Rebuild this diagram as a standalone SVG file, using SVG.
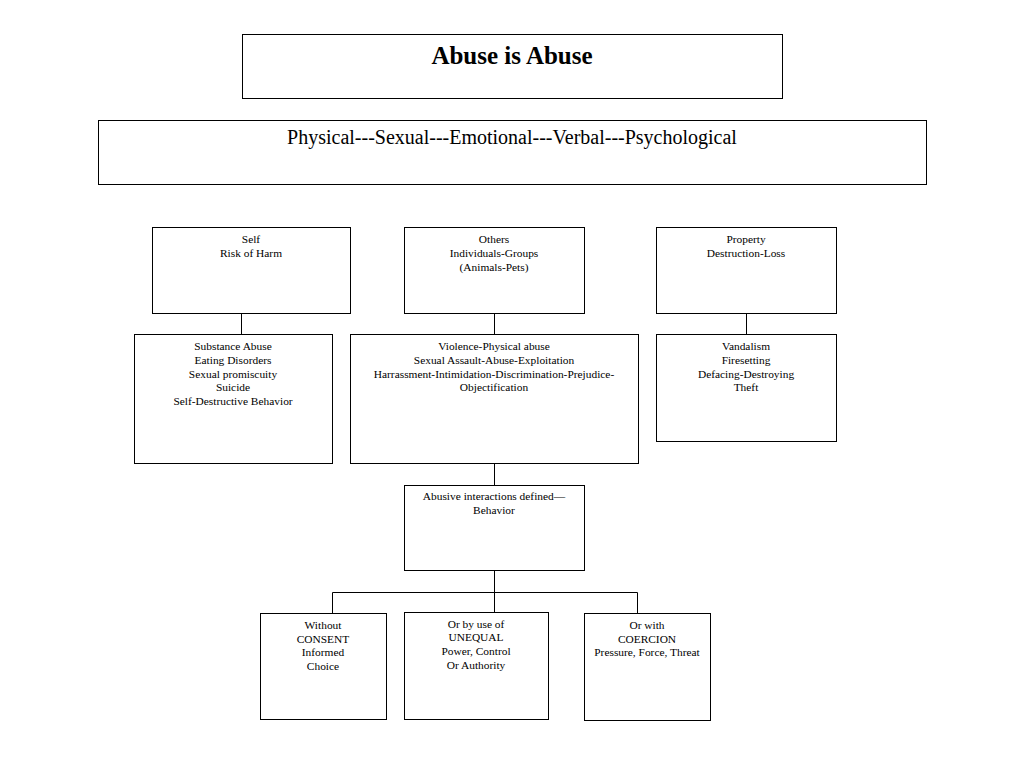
<svg xmlns="http://www.w3.org/2000/svg" width="1024" height="768" viewBox="0 0 1024 768">
<style>
rect{fill:#fff;stroke:#000;stroke-width:1}
text{font-family:"Liberation Serif","Times New Roman",serif;fill:#000;text-anchor:middle;font-size:11.4px}
.t{font-size:25px;font-weight:bold}
.s{font-size:20px}
#connectors path{fill:none;stroke:#000;stroke-width:1}
</style>
<rect x="0" y="0" width="1024" height="768" style="stroke:none"/>
<g id="connectors">
<path d="M241.5 313V334"/>
<path d="M494.5 313V334"/>
<path d="M746.5 313V334"/>
<path d="M494.5 463V485"/>
<path d="M494.5 570V592M332.5 613V592.5H637.5V613M494.5 592V612"/>
</g>
<g id="title"><rect x="242.5" y="34.5" width="540" height="64"/><text class="t" x="512" y="64">Abuse is Abuse</text></g>
<g id="types"><rect x="98.5" y="120.5" width="828" height="64"/><text class="s" x="512" y="144">Physical---Sexual---Emotional---Verbal---Psychological</text></g>
<g id="self"><rect x="152.5" y="227.5" width="198" height="86"/><text x="251" y="243">Self</text><text x="251" y="257">Risk of Harm</text></g>
<g id="others"><rect x="404.5" y="227.5" width="180" height="86"/><text x="494" y="243">Others</text><text x="494" y="257">Individuals-Groups</text><text x="494" y="271">(Animals-Pets)</text></g>
<g id="property"><rect x="656.5" y="227.5" width="180" height="86"/><text x="746" y="243">Property</text><text x="746" y="257">Destruction-Loss</text></g>
<g id="selfList"><rect x="134.5" y="334.5" width="198" height="129"/><text x="233" y="350">Substance Abuse</text><text x="233" y="364">Eating Disorders</text><text x="233" y="378">Sexual promiscuity</text><text x="233" y="391">Suicide</text><text x="233" y="405">Self-Destructive Behavior</text></g>
<g id="othersList"><rect x="350.5" y="334.5" width="288" height="129"/><text x="494" y="350">Violence-Physical abuse</text><text x="494" y="364">Sexual Assault-Abuse-Exploitation</text><text x="494" y="378">Harrassment-Intimidation-Discrimination-Prejudice-</text><text x="494" y="391">Objectification</text></g>
<g id="propertyList"><rect x="656.5" y="334.5" width="180" height="107"/><text x="746" y="350">Vandalism</text><text x="746" y="364">Firesetting</text><text x="746" y="378">Defacing-Destroying</text><text x="746" y="391">Theft</text></g>
<g id="behavior"><rect x="404.5" y="485.5" width="180" height="85"/><text x="494" y="500">Abusive interactions defined—</text><text x="494" y="514">Behavior</text></g>
<g id="consent"><rect x="260.5" y="613.5" width="126" height="106"/><text x="323" y="629">Without</text><text x="323" y="643">CONSENT</text><text x="323" y="656">Informed</text><text x="323" y="670">Choice</text></g>
<g id="unequal"><rect x="404.5" y="612.5" width="144" height="107"/><text x="476" y="628">Or by use of</text><text x="476" y="641">UNEQUAL</text><text x="476" y="655">Power, Control</text><text x="476" y="669">Or Authority</text></g>
<g id="coercion"><rect x="584.5" y="613.5" width="126" height="107"/><text x="647" y="629">Or with</text><text x="647" y="643">COERCION</text><text x="647" y="656">Pressure, Force, Threat</text></g>
</svg>
